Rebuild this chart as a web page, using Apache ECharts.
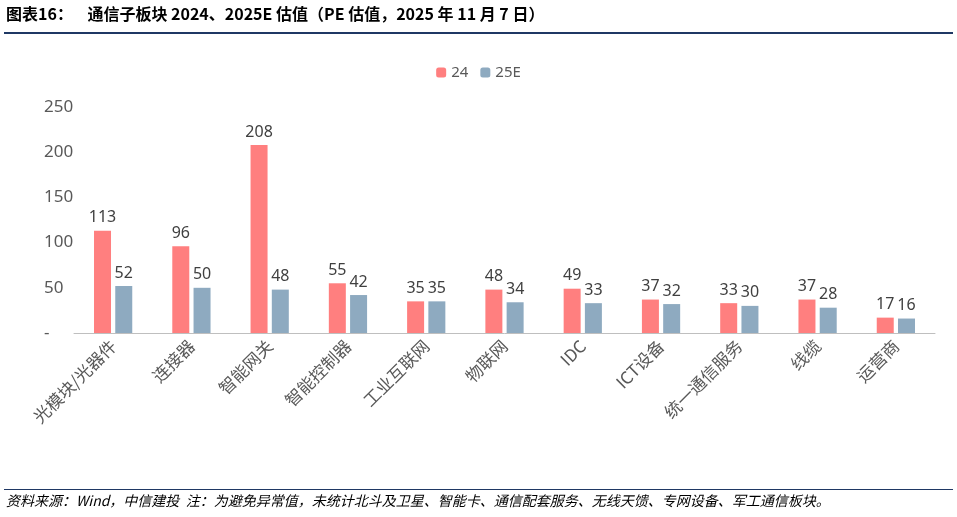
<!DOCTYPE html>
<html><head><meta charset="utf-8">
<script src="https://cdn.jsdelivr.net/npm/echarts@6/dist/echarts.min.js"></script>
<style>body{margin:0;background:#fff}#c{width:957px;height:517px}</style></head>
<body><div id="c"></div>
<script>
const categories=['光模块/光器件','连接器','智能网关','智能控制器','工业互联网','物联网','IDC','ICT设备','统一通信服务','线缆','运营商'];
const s24=[113,96,208,55,35,48,49,37,33,37,17];
const s25=[52,50,48,42,35,34,33,32,30,28,16];
const yTicks=[0,50,100,150,200,250];
const c=echarts.init(document.getElementById('c'));
c.setOption({
 animation:false,
 graphic:[
  {type:'text',left:6,top:6,style:{text:'图表16：    通信子板块 2024、2025E 估值（PE 估值，2025 年 11 月 7 日）',font:'bold 16px "Noto Sans CJK SC"',fill:'#000'}},
  {type:'rect',shape:{x:4,y:32,width:949,height:2},style:{fill:'#1F3864'}},
  {type:'rect',shape:{x:4,y:489,width:949,height:1},style:{fill:'#1F3864'}},
  {type:'text',left:6,top:494,style:{text:'资料来源：Wind，中信建投  注：为避免异常值，未统计北斗及卫星、智能卡、通信配套服务、无线天馈、专网设备、军工通信板块。',font:'italic 14px "Noto Sans CJK SC"',fill:'#000'}}
 ],
 legend:{top:60,left:'center',itemWidth:10,itemHeight:10,itemGap:12,textStyle:{color:'#595959',fontSize:15,fontFamily:'Noto Sans'},data:['24','25E']},
 grid:{left:74,right:22,top:107,bottom:184},
 xAxis:{type:'category',data:categories,axisTick:{show:false},axisLine:{lineStyle:{color:'#bfbfbf'}},
  axisLabel:{rotate:45,color:'#595959',fontSize:17,fontFamily:'Noto Sans CJK SC',interval:0,margin:10}},
 yAxis:{type:'value',min:0,max:250,interval:50,splitLine:{show:false},axisLine:{show:false},axisTick:{show:false},
  axisLabel:{color:'#595959',fontSize:17,fontFamily:'Noto Sans',margin:30,align:'left',formatter:v=>v===0?'-':String(v)}},
 series:[
  {name:'24',type:'bar',data:s24,barWidth:17,barGap:'25%',itemStyle:{color:'#FF7F7F'},label:{show:true,position:'top',color:'#404040',fontSize:16,fontFamily:'Noto Sans'}},
  {name:'25E',type:'bar',data:s25,barWidth:17,itemStyle:{color:'#8EAAC0'},label:{show:true,position:'top',color:'#404040',fontSize:16,fontFamily:'Noto Sans'}}
 ]
});
</script></body></html>
